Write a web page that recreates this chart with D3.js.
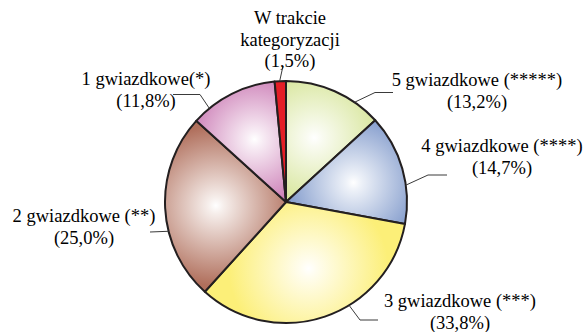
<!DOCTYPE html>
<html>
<head>
<meta charset="utf-8">
<script src="https://cdn.jsdelivr.net/npm/d3@7"></script>
</head>
<body style="margin:0;background:#ffffff">
<svg id="hotels" width="585" height="332" style="display:block" font-family="Times New Roman"></svg>
<script>
// Hotel categories and their share (%), clockwise from 12 o'clock
const categories = [
  "5 gwiazdkowe (*****)",
  "4 gwiazdkowe (****)",
  "3 gwiazdkowe (***)",
  "2 gwiazdkowe (**)",
  "1 gwiazdkowe(*)",
  "W trakcie kategoryzacji"
];
const shares = [13.2, 14.7, 33.8, 25.0, 11.8, 1.5];
const shareLabels = ["(13,2%)", "(14,7%)", "(33,8%)", "(25,0%)", "(11,8%)", "(1,5%)"];
const labelLines = [
  ["5 gwiazdkowe (*****)"],
  ["4 gwiazdkowe (****)"],
  ["3 gwiazdkowe (***)"],
  ["2 gwiazdkowe (**)"],
  ["1 gwiazdkowe(*)"],
  ["W trakcie", "kategoryzacji"]
];
const edgeColors = ["#d0e188", "#6d8ac3", "#fcef78", "#b06f5c", "#c265a8", "#e41e26"];

// Callout layout: anchor angle on the rim (deg), leader bend/end points, text centre and first baseline
const callouts = [
  { angle: 34.5,  bend: [375, 92.5], end: [393, 92.5], tx: 477, ty: 86 },
  { angle: 82,    bend: [428, 175],  end: [447, 175],  tx: 502, ty: 152 },
  { angle: 148.6, bend: [360, 320],  end: [378, 320],  tx: 460, ty: 307 },
  { angle: 256,   bend: null,        end: [150, 232],  tx: 84,  ty: 222 },
  { angle: 320.7, bend: [200, 94.5], end: [173, 94.5], tx: 146, ty: 85 },
  { angle: 357,   bend: null,        end: [283, 66],   tx: 290, ty: 24 }
];

const cx = 286, cy = 202, R = 121;
const lineGap = 21.5;

const svg = d3.select("#hotels");
const defs = svg.append("defs");

const pie = d3.pie().sort(null).value(d => d)(shares);
const arc = d3.arc().innerRadius(0).outerRadius(R);

// one soft radial highlight per slice, in the pie group's coordinates
pie.forEach((p, i) => {
  const mid = (p.startAngle + p.endAngle) / 2;
  const tiny = i === 5;
  const hr = tiny ? 0.9 * R : 0.58 * R;
  const c = d3.color(edgeColors[i]);
  const g = defs.append("radialGradient")
    .attr("id", "grad" + i)
    .attr("gradientUnits", "userSpaceOnUse")
    .attr("cx", hr * Math.sin(mid))
    .attr("cy", -hr * Math.cos(mid))
    .attr("r", tiny ? 30 : 80);
  g.append("stop").attr("offset", 0).attr("stop-color", tiny ? c : "#ffffff");
  g.append("stop").attr("offset", 0.1).attr("stop-color", tiny ? c : d3.interpolateRgb("#ffffff", c)(0.12));
  g.append("stop").attr("offset", 1).attr("stop-color", c);
});

const gPie = svg.append("g").attr("transform", `translate(${cx},${cy})`);
gPie.selectAll("path")
  .data(pie)
  .join("path")
  .attr("d", arc)
  .attr("fill", (d, i) => `url(#grad${i})`)
  .attr("stroke", "#231f20")
  .attr("stroke-width", 2)
  .attr("stroke-linejoin", "round");

// leader lines
const line = d3.line();
callouts.forEach((c, i) => {
  const a = c.angle * Math.PI / 180;
  const p0 = [cx + R * Math.sin(a), cy - R * Math.cos(a)];
  const pts = c.bend ? [p0, c.bend, c.end] : [p0, c.end];
  svg.append("path")
    .attr("d", line(pts))
    .attr("fill", "none")
    .attr("stroke", "#3a3a3a")
    .attr("stroke-width", 1);
});

// labels: each line centred on its callout
const rows = [];
callouts.forEach((c, i) => {
  labelLines[i].concat([shareLabels[i]]).forEach((s, k) => {
    rows.push({ s, cxText: c.tx, y: c.ty + k * lineGap });
  });
});
svg.selectAll("text")
  .data(rows)
  .join("text")
  .attr("font-family", "Times New Roman")
  .attr("font-size", 18.5)
  .attr("text-anchor", "middle")
  .attr("x", d => d.cxText)
  .attr("y", d => d.y)
  .text(d => d.s);
</script>
</body>
</html>
